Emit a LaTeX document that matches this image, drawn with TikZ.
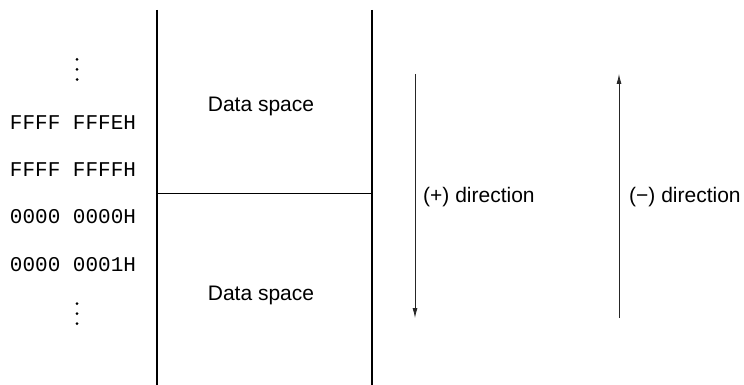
\documentclass[tikz,border=0pt]{standalone}
\usepackage{fontspec}
\setmainfont{Liberation Sans}
\newfontfamily\monofont{Liberation Mono}
\usetikzlibrary{arrows.meta}
\begin{document}
\begin{tikzpicture}[x=1pt,y=-1pt,
  addr/.style={anchor=base,inner sep=0pt,font=\monofont\fontsize{21}{24}\selectfont},
  lbl/.style={anchor=base,inner sep=0pt,font=\fontsize{21}{24}\selectfont},
  dlbl/.style={anchor=base west,inner sep=0pt,font=\fontsize{21}{24}\selectfont},
  wall/.style={line width=2pt},
  dir/.style={line width=0.8pt,draw=black!85,-{Latex[length=10pt,width=5pt]}},
  dot/.style={circle,fill=black,inner sep=0pt,minimum size=3pt}]
\useasboundingbox (0,0) rectangle (744,385);
% walls
\coordinate (lt) at (157,10); \coordinate (lb) at (157,385);
\coordinate (rt) at (372,10); \coordinate (rb) at (372,385);
\coordinate (ml) at (157,193); \coordinate (mr) at (372,193);
\draw[wall] (lt) -- (lb);
\draw[wall] (rt) -- (rb);
\draw[line width=0.9pt] (ml) -- (mr);
% data space labels
\node[lbl] (ds1) at (261,112) {Data space};
\node[lbl] (ds2) at (261,300) {Data space};
% addresses
\node[addr] (a1) at (73,129) {FFFF FFFEH};
\node[addr] (a2) at (73,176) {FFFF FFFFH};
\node[addr] (a3) at (73,223) {0000 0000H};
\node[addr] (a4) at (73,271) {0000 0001H};
% dots
\node[dot] (d1) at (77,59.5) {};
\node[dot] (d2) at (77,69.5) {};
\node[dot] (d3) at (77,79.5) {};
\node[dot] (d4) at (77,303.5) {};
\node[dot] (d5) at (77,313.5) {};
\node[dot] (d6) at (77,323.5) {};
% direction arrows
\coordinate (p1) at (415,74); \coordinate (p2) at (415,318);
\coordinate (m1) at (619,318); \coordinate (m2) at (619,74);
\draw[dir] (p1) -- (p2);
\draw[dir] (m1) -- (m2);
\node[dlbl] (pl) at (423,202) {(+) direction};
\node[dlbl] (mi) at (629,202) {(\symbol{"2212}) direction};
\end{tikzpicture}
\end{document}
